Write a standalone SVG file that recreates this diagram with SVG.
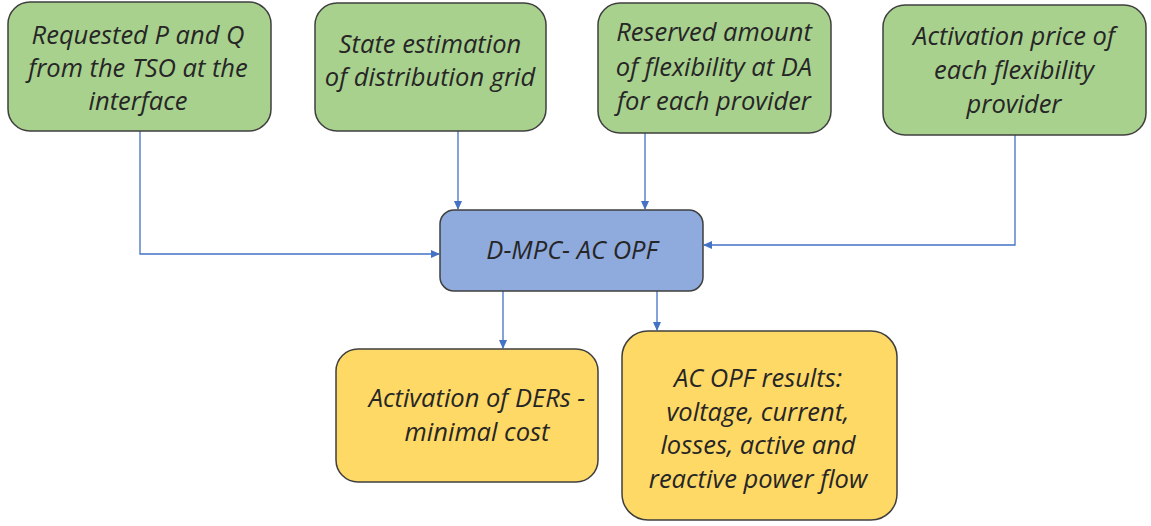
<svg xmlns="http://www.w3.org/2000/svg" width="1151" height="526" viewBox="0 0 1151 526">
<style>
.box{stroke:#3f3f3f;stroke-width:1.5}
.g{fill:#a9d18e}
.b{fill:#8faadc}
.y{fill:#ffd966}
text{font-family:"Open Sans","Liberation Sans",sans-serif;font-style:italic;font-size:25.5px;fill:#262626;text-anchor:middle}
.c{fill:none;stroke:#4472c4;stroke-width:1.3}
</style>
<defs>
<marker id="ah" markerWidth="10" markerHeight="10" refX="8" refY="5" orient="auto" markerUnits="userSpaceOnUse">
<path d="M0,1 L9,5 L0,9 Z" fill="#4472c4"/>
</marker>
</defs>
<rect width="1151" height="526" fill="#ffffff"/>
<g id="connectors">
<path class="c" d="M140,131 V254 H439" marker-end="url(#ah)"/>
<path class="c" d="M458,131 V209" marker-end="url(#ah)"/>
<path class="c" d="M645,133 V209" marker-end="url(#ah)"/>
<path class="c" d="M1015,135 V245 H704" marker-end="url(#ah)"/>
<path class="c" d="M503,291 V348" marker-end="url(#ah)"/>
<path class="c" d="M657,291 V330" marker-end="url(#ah)"/>
</g>
<g id="n1">
<rect class="box g" x="8" y="2" width="263" height="129" rx="22"/>
<text x="138" y="44">Requested P and Q</text>
<text x="138" y="77">from the TSO at the</text>
<text x="138" y="110">interface</text>
</g>
<g id="n2">
<rect class="box g" x="315" y="3" width="231" height="128" rx="22"/>
<text x="430" y="53">State estimation</text>
<text x="430" y="86">of distribution grid</text>
</g>
<g id="n3">
<rect class="box g" x="598" y="3" width="233" height="130" rx="22"/>
<text x="714" y="41">Reserved amount</text>
<text x="714" y="76">of flexibility at DA</text>
<text x="714" y="110">for each provider</text>
</g>
<g id="n4">
<rect class="box g" x="883" y="5" width="263" height="130" rx="22"/>
<text x="1014" y="45">Activation price of</text>
<text x="1014" y="79">each flexibility</text>
<text x="1014" y="113">provider</text>
</g>
<g id="center">
<rect class="box b" x="440" y="210" width="263" height="81" rx="14"/>
<text x="572" y="259">D-MPC- AC OPF</text>
</g>
<g id="out1">
<rect class="box y" x="336" y="349" width="262" height="133" rx="22"/>
<text x="477" y="407">Activation of DERs -</text>
<text x="477" y="441">minimal cost</text>
</g>
<g id="out2">
<rect class="box y" x="622" y="331" width="275" height="189" rx="26"/>
<text x="758" y="387">AC OPF results:</text>
<text x="758" y="421">voltage, current,</text>
<text x="758" y="454">losses, active and</text>
<text x="758" y="488">reactive power flow</text>
</g>
</svg>
